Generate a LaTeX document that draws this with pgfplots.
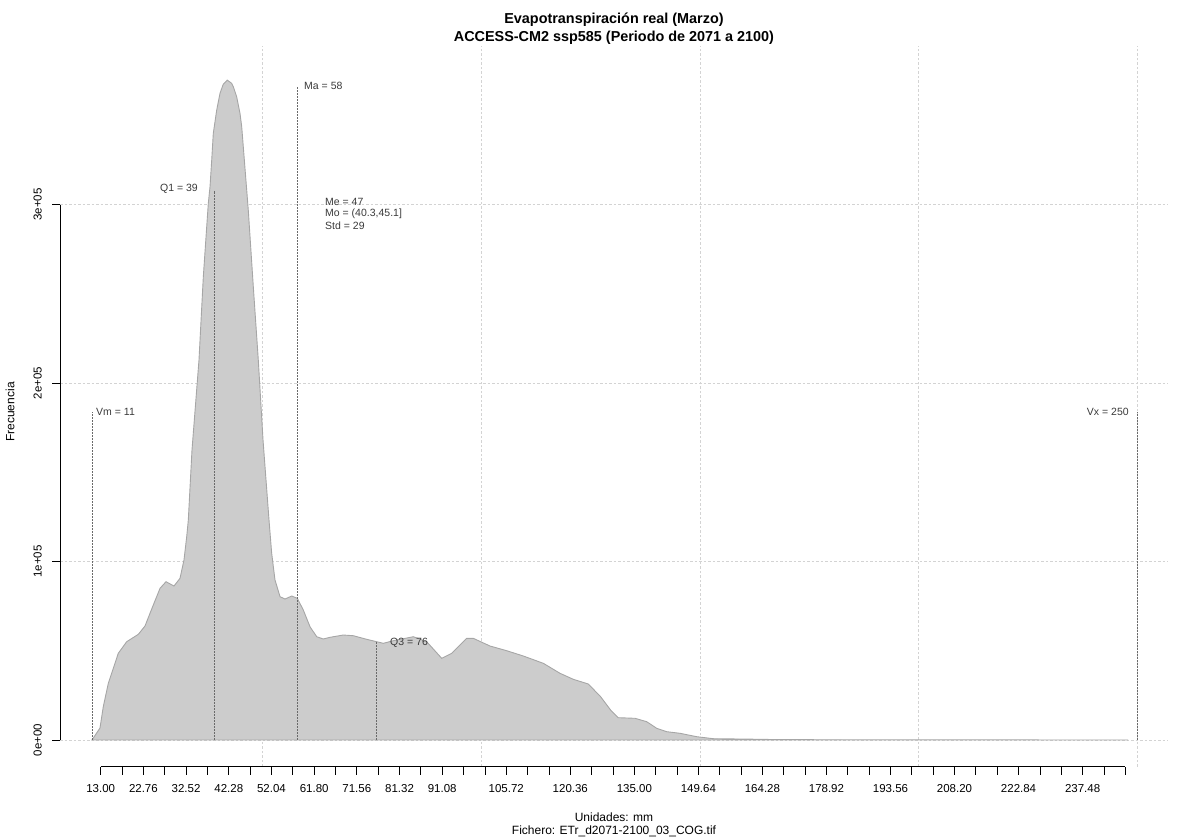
\documentclass[border=0pt]{standalone}
\usepackage{fontspec}
\setmainfont{Liberation Sans}
\usepackage{pgfplots}
\pgfplotsset{compat=1.18}
\definecolor{densfill}{HTML}{CCCCCC}
\definecolor{densline}{HTML}{A6A6A6}
\definecolor{gridgray}{HTML}{D3D3D3}
\definecolor{statgray}{HTML}{6A6A6A}
\definecolor{annot}{HTML}{3A3A3A}

\begin{document}
\begin{tikzpicture}[x=1bp,y=1bp]
\useasboundingbox (0,0) rectangle (1200,840);
\begin{axis}[
    at={(60bp,73.3bp)}, anchor=south west,
    scale only axis, width=1108bp, height=720.9bp,
    xmin=3.695, xmax=257.01, ymin=-14960, ymax=388960,
    axis line style={draw=none},
    clip=false,
    tick align=outside,
    xtick pos=bottom, ytick pos=left,
    major tick length=8bp,
    tick style={black, line width=0.8bp},
    xtick={13,17.88,...,247.3},
    xticklabels={13.00,{},22.76,{},32.52,{},42.28,{},52.04,{},61.80,{},71.56,{},81.32,{},91.08,{},{},105.72,{},{},120.36,{},{},135.00,{},{},149.64,{},{},164.28,{},{},178.92,{},{},193.56,{},{},208.20,{},{},222.84,{},{},237.48,{},{}},
    ytick={0,100000,200000,300000},
    yticklabels={0e+00,1e+05,2e+05,3e+05},
    scaled y ticks=false,
    /pgf/number format/assume math mode=true,
    tick label style={font=\fontsize{11.5bp}{13bp}\selectfont, black},
    xticklabel style={yshift=-6bp},
    yticklabel style={rotate=90, anchor=south, inner sep=0pt, yshift=10bp},
    ymajorgrids,
    major grid style={gridgray, line width=0.8bp, dash pattern=on 2.5bp off 2bp},
]
% vertical grid
\pgfplotsinvokeforeach{50,100,150,200,250}{
  \draw[gridgray, line width=0.8bp, dash pattern=on 2.5bp off 2bp] (axis cs:#1,-14960) -- (axis cs:#1,388960);
}
% density
\addplot[draw=densline, fill=densfill, line width=0.9bp] coordinates {
(11,0) (12.84,6722) (13.59,18655) (14.74,31763) (17.02,48570) (18.94,55068)
(21.60,59213) (23.13,63863) (24.27,70977) (26.56,84982) (27.93,88680) (29.76,86271)
(31.13,90584) (32.04,100836) (32.66,113889) (33.03,123244) (33.87,162458) (35.47,212876)
(36.46,259541) (37.60,300659) (37.99,309959) (38.38,324916) (38.74,339873) (39.52,352926)
(40.27,362281) (41.03,367491) (41.94,369732) (42.95,367883) (43.32,365979) (44.09,360377)
(44.85,351077) (45.24,343571) (45.60,332367) (46.74,296906) (47.89,253939) (49.03,212876)
(50.11,168060) (51.48,123244) (52.09,104589) (52.85,89632) (54.00,80277) (55.14,78988)
(56.67,80669) (57.95,79380) (59.32,72826) (60.85,63471) (62.38,57869) (63.89,56580)
(65.42,57533) (68.46,58821) (70.75,58429) (73.81,56412) (77.61,54171) (79.90,55628)
(84.47,57869) (87.53,55068) (90.96,45768) (93.25,48570) (96.68,56972) (98.18,56972)
(102.0,52659) (105.82,50026) (109.62,47057) (114.19,42967) (118.01,37365) (121.05,34004)
(124.48,31371) (127.29,24257) (129.57,16806) (131.33,12492) (135.15,12156) (137.83,10252)
(140.11,6554) (142.40,4650) (145.44,3753) (149.26,1849) (153.05,728) (160.69,504)
(168.3,200) (200,60) (247.87,0)
} -- cycle;
% statistic lines
\addplot[statgray, line width=0.8bp, dash pattern=on 1.5bp off 1.5bp] coordinates {(11,0) (11,183700)};
\addplot[statgray, line width=0.8bp, dash pattern=on 1.5bp off 1.5bp] coordinates {(250,0) (250,183700)};
\addplot[statgray, line width=0.8bp, dash pattern=on 1.5bp off 1.5bp] coordinates {(39,0) (39,307700)};
\addplot[statgray, line width=0.8bp, dash pattern=on 1.5bp off 1.5bp] coordinates {(58,0) (58,366000)};
\addplot[statgray, line width=0.8bp, dash pattern=on 1.5bp off 1.5bp] coordinates {(76,0) (76,55000)};
% axis lines (R style)
\draw[black, line width=0.8bp] (axis cs:13,-14960) -- (axis cs:247.24,-14960);
\draw[black, line width=0.8bp] (axis cs:3.695,0) -- (axis cs:3.695,300000);
% annotations
\begin{scope}[every node/.style={font=\fontsize{10.5bp}{12bp}\selectfont, text=annot, inner sep=0pt}]
\node[anchor=west] at (axis cs:59.48,366500) {Ma = 58};
\node[anchor=east] at (axis cs:35.25,308700) {Q1 = 39};
\node[anchor=west] at (axis cs:11.93,183700) {Vm = 11};
\node[anchor=east] at (axis cs:248.07,183700) {Vx = 250};
\node[anchor=west] at (axis cs:79.14,54500) {Q3 = 76};
\node[anchor=west] at (axis cs:64.28,301400) {Me = 47};
\node[anchor=west] at (axis cs:64.28,294700) {Mo = (40.3,45.1]};
\node[anchor=west] at (axis cs:64.28,287900) {Std = 29};
\end{scope}
\end{axis}
% titles and labels
\node[font=\bfseries\fontsize{14.4bp}{16bp}\selectfont] at (614,820) {Evapotranspiración real (Marzo)};
\node[font=\bfseries\fontsize{14.4bp}{16bp}\selectfont] at (614,802) {ACCESS-CM2 ssp585 (Periodo de 2071 a 2100)};
\node[font=\fontsize{12bp}{14bp}\selectfont] at (614,22.7) {Unidades: mm};
\node[font=\fontsize{12bp}{14bp}\selectfont] at (614,8.5) {Fichero: ETr\_d2071-2100\_03\_COG.tif};
\node[font=\fontsize{12bp}{14bp}\selectfont, rotate=90] at (10,428) {Frecuencia};
\end{tikzpicture}
\end{document}
